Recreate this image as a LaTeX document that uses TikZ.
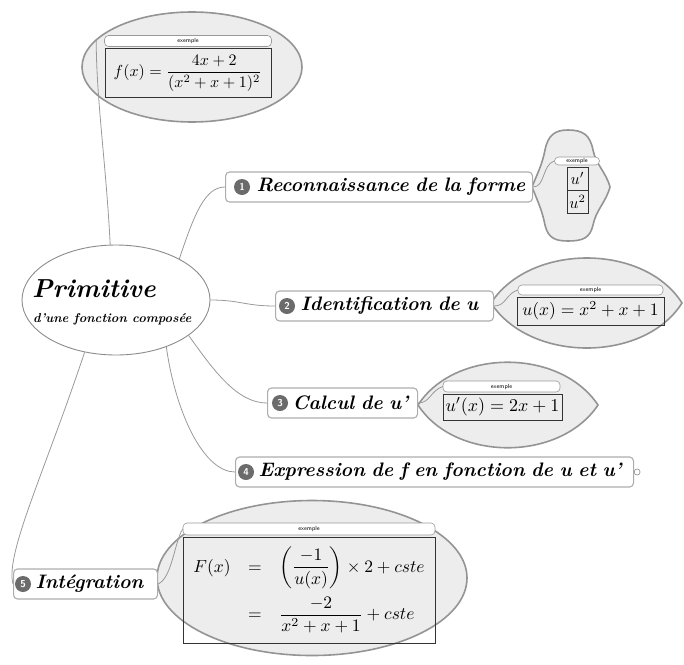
\documentclass[tikz,border=0pt]{standalone}
\usepackage{amsmath}
\usepackage{graphicx}
\usetikzlibrary{calc, shapes.geometric}
\colorlet{linecolor}{black!40}
\colorlet{calloutfill}{black!7}
\colorlet{calloutstroke}{black!42}
\colorlet{dotfill}{black!58}
\colorlet{boxstroke}{black!32}
\tikzset{
  conn/.style={draw=linecolor, line width=0.8pt},
  topic/.style={
    draw=boxstroke,
    fill=white,
    rounded corners=4pt,
    line width=1.1pt,
    anchor=west,
    minimum height=30pt,
    inner xsep=0pt,
    align=left,
    font=\fontsize{19.5}{22}\selectfont\bfseries\itshape
  },
  numdot/.style={circle, fill=dotfill, text=white, inner sep=0pt, minimum size=16pt,
    font=\fontsize{10}{10}\selectfont\bfseries\sffamily},
  callout/.style={draw=calloutstroke, fill=calloutfill, line width=1.6pt},
  pill/.style={draw=black!40, fill=white, rounded corners=4pt, line width=0.6pt,
    inner sep=0pt, minimum height=11pt, font=\fontsize{6}{6}\selectfont\sffamily},
  formula/.style={draw=black!80, line width=0.9pt, inner sep=0pt},
  centre/.style={ellipse, draw=black!45, fill=white, line width=0.9pt,
    minimum width=188pt, minimum height=110pt},
  headline/.style={anchor=base west, inner sep=0pt, font=\bfseries\itshape}
}

\begin{document}
\begin{tikzpicture}[x=1pt, y=-1pt]
\useasboundingbox (0,0) rectangle (684,664);

\node[callout, ellipse, minimum width=220pt, minimum height=110pt] (bubbleA) at (192,67) {};
\node[pill, minimum width=167pt] (pillA) at (188,41) {exemple};
\node[formula, minimum width=166pt, minimum height=49pt] (mathA) at (188,73)
  {\scalebox{1.6}{$f(x)=\dfrac{4x+2}{(x^2+x+1)^2}$}};
\coordinate (tieA) at ($(pillA.west)+(-8,-2)$);

\draw[callout] (532,187) .. controls (538,172) and (542,165) .. (545,150)
  .. controls (548,135) and (555,130) .. (568,130)
  .. controls (583,130) and (590,135) .. (593,150)
  .. controls (596,165) and (606,172) .. (610,187)
  .. controls (606,202) and (596,210) .. (593,225)
  .. controls (590,238) and (583,241) .. (568,241)
  .. controls (555,241) and (548,238) .. (545,225)
  .. controls (542,210) and (538,202) .. (532,187) -- cycle;
\node[pill, minimum width=45pt, minimum height=8pt] (pillB) at (577,161) {exemple};
\node[formula, minimum width=21pt, minimum height=23pt] (mathB) at (577.5,178.5)
  {\scalebox{1.6}{$u'$}};
\node[formula, minimum width=21pt, minimum height=23pt] (mathBB) at (577.5,201.5)
  {\scalebox{1.6}{$u^2$}};

\draw[callout] (491,303) .. controls (530,243) and (644,243) .. (682,303)
  .. controls (644,363) and (530,363) .. (491,303) -- cycle;
\node[pill, minimum width=145pt, minimum height=10pt] (pillC) at (590.5,290) {exemple};
\node[formula, minimum width=147pt, minimum height=28pt] (mathC) at (590.5,311)
  {\scalebox{1.75}{$u(x)=x^2+x+1$}};

\draw[callout] (418,405) .. controls (455,348) and (560,348) .. (598,405)
  .. controls (560,462) and (455,462) .. (418,405) -- cycle;
\node[pill, minimum width=117pt] (pillD) at (501.5,386.5) {exemple};
\node[formula, minimum width=119pt, minimum height=26pt] (mathD) at (502.5,407)
  {\scalebox{1.8}{$u'(x)=2x+1$}};

\node[callout, ellipse, minimum width=310pt, minimum height=155pt] (bubbleE) at (312,578) {};
\node[pill, minimum width=252pt, minimum height=12pt] (pillE) at (309,529) {exemple};
\node[formula, minimum width=252pt, minimum height=106pt] (mathE) at (309,590)
  {\scalebox{1.75}{$\begin{array}{rcl}
    F(x) & = & \left(\dfrac{-1}{u(x)}\right)\times 2+cste\\[10.5pt]
         & = & \dfrac{-2}{x^2+x+1}+cste
  \end{array}$}};

\node[centre] (centre) at (116,300) {};
\node[headline, font=\fontsize{26}{28}\selectfont\bfseries\itshape] (title) at (32,297) {Primitive};
\node[headline, font=\fontsize{12.8}{14}\selectfont\bfseries\itshape] (subtitle) at (33,322) {d'une fonction composée};

\node[topic, text width=307pt] (reco) at (225,187) {\hspace*{31pt}Reconnaissance de la forme};
\node[numdot] (dotA) at ($(reco.west)+(17,0)$) {1};
\node[topic, text width=218pt] (iden) at (275,306) {\hspace*{25pt}Identification de u};
\node[numdot] (dotB) at ($(iden.west)+(12,0)$) {2};
\node[topic, text width=150pt] (calc) at (267,403) {\hspace*{25pt}Calcul de u'};
\node[numdot] (dotC) at ($(calc.west)+(13,0)$) {3};
\node[topic, text width=398pt] (expr) at (235,472) {\hspace*{23pt}Expression de f en fonction de u et u'};
\node[numdot] (dotD) at ($(expr.west)+(11,0)$) {4};
\node[circle, draw=black!45, fill=white, inner sep=0pt, minimum size=6pt, line width=0.6pt]
  (fold) at ($(expr.east)+(3,0)$) {};
\node[topic, text width=144pt] (integ) at (13,584) {\hspace*{22pt}Intégration};
\node[numdot] (dotE) at ($(integ.west)+(10,0)$) {5};

\draw[conn] (reco.east) .. controls +(12,0) and +(-12,4) .. (pillB.west);
\draw[conn] (iden.east) .. controls +(12,0) and +(-12,4) .. (pillC.west);
\draw[conn] (calc.east) .. controls +(12,0) and +(-12,4) .. (pillD.west);
\draw[conn] (integ.east) .. controls +(14,-6) and +(-8,12) .. (pillE.west);

\draw[conn] (centre.96) .. controls +(-4,-80) and +(0,60) .. (tieA);
\draw[conn] (centre.33) .. controls +(15,-45) and +(-20,0) .. (reco.west);
\draw[conn] (centre.east) .. controls +(30,0) and +(-30,0) .. (iden.west);
\draw[conn] (centre.-26) .. controls +(25,35) and +(-30,0) .. (calc.west);
\draw[conn] (centre.-43) .. controls +(10,70) and +(-30,0) .. (expr.west);
\draw[conn] (centre.-121) .. controls +(-40,120) and +(-8,-30) .. (integ.west);

\end{tikzpicture}
\end{document}
